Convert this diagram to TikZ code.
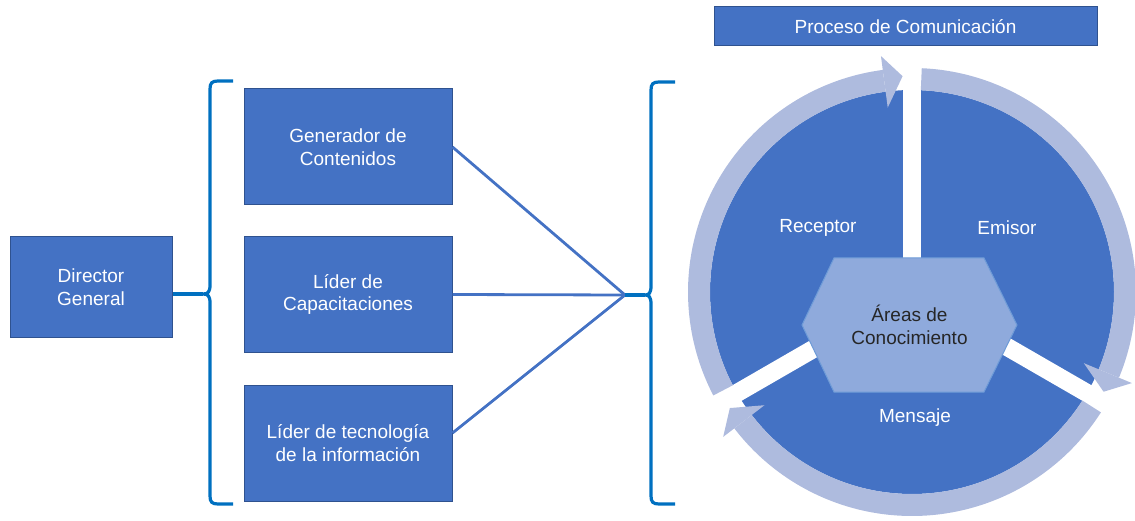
\documentclass[tikz,border=0pt]{standalone}
\usepackage{fontspec}
\setmainfont{Liberation Sans}
\usetikzlibrary{positioning, calc}
\definecolor{rolecolor}{RGB}{68,114,196}
\definecolor{edgecolor}{RGB}{47,82,143}
\definecolor{bracecolor}{RGB}{0,112,192}
\definecolor{ringcolor}{RGB}{174,187,222}
\definecolor{hexcolor}{RGB}{143,170,220}
\definecolor{hexedge}{RGB}{110,155,215}

\begin{document}
\begin{tikzpicture}[
    x=1pt, y=1pt,
    font=\fontsize{19}{22.5}\selectfont,
    role/.style={draw=edgecolor, line width=1pt, fill=rolecolor, text=white, minimum width=#1, minimum height=116, align=center, inner sep=0pt},
    role/.default=208,
    bracket/.style={draw=bracecolor, line width=3.2pt},
    link/.style={draw=rolecolor, line width=2.8pt},
    sector/.style={text=white, align=center}
]
    \useasboundingbox (0,0) rectangle (1135,520);

    % Director and team
    \node[role=162, minimum height=100] (dir) at (91,233) {Director\\General};
    \node[role] (gen) at (348,373) {Generador de\\Contenidos};
    \node[role] (cap) at (348,225.5) {Líder de\\Capacitaciones};
    \node[role] (tec) at (348,77) {Líder de tecnología\\de la información};

    % Brackets
    \coordinate (lcusp) at (203,226);
    \coordinate (rcusp) at (645,225);
    \coordinate (hub) at (625,225);
    \draw[bracket] (233,439) -- (218,439) .. controls (212,439) and (210,437) .. (210,431)
        -- (210,235) .. controls (210,228) and (208,226) .. (lcusp)
        .. controls (208,226) and (210,224) .. (210,217)
        -- (210,24) .. controls (210,18) and (212,16) .. (218,16) -- (233,16);
    \draw[bracket] (675,438) -- (659,438) .. controls (653,438) and (651,436) .. (651,430)
        -- (651,234) .. controls (651,227) and (649,225) .. (rcusp)
        .. controls (649,225) and (651,223) .. (651,216)
        -- (651,24) .. controls (651,18) and (653,16) .. (659,16) -- (675,16);
    \draw[bracecolor, line width=3.2pt] (dir.east |- lcusp) -- (lcusp);

    % Team to process
    \draw[link] (gen.east) -- (hub);
    \draw[link] (cap.east) -- (hub);
    \draw[link] ([yshift=10pt]tec.east) -- (hub);
    \draw[bracecolor, line width=3.2pt] (hub) -- (rcusp);

    % Communication cycle
    \node[role=383, minimum height=39] (title) at (905.5,493.5) {Proceso de Comunicación};
    \begin{scope}[shift={(912,228)}]
        \fill[rolecolor] (0,0) circle[radius=202];
        \foreach \a in {90,-30,210}
            \draw[white, line width=18pt] (0,0) -- (\a:206);
        \foreach \s in {87.5,-32.5,-152.5} {
            \fill[ringcolor] (\s:224) arc[start angle=\s, end angle=\s-110, radius=224]
                -- ({\s-110}:202) arc[start angle=\s-110, end angle=\s, radius=202] -- cycle;
            \fill[ringcolor] ({\s-110}:186) -- ({\s-110}:238) -- ({\s-115}:216) -- cycle;
        }
    \end{scope}
    \filldraw[fill=hexcolor, draw=hexedge, line width=1pt] (802,195) -- (834,262) -- (984,262) -- (1017,195) -- (984,128) -- (834,128) -- cycle;

    % Cycle labels
    \node[align=center, text=black!85] (areas) at (909.5,195) {Áreas de\\Conocimiento};
    \node[sector] (rec) at (818,292) {Receptor};
    \node[sector] (emi) at (1007,292) {Emisor};
    \node[sector] (men) at (915,102) {Mensaje};
\end{tikzpicture}
\end{document}
